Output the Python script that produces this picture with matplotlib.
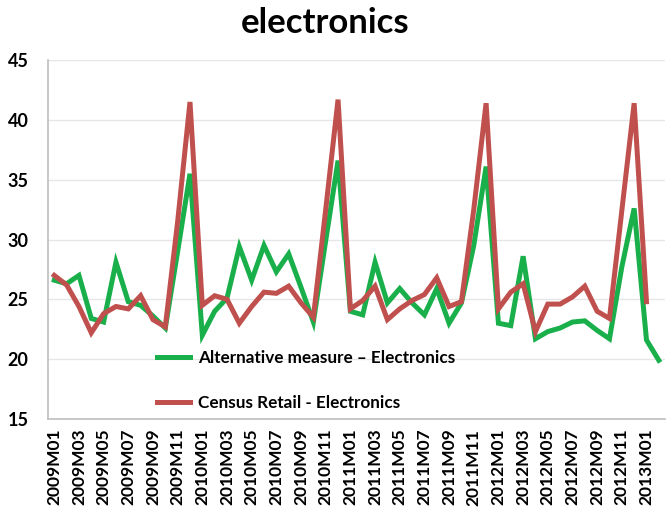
import matplotlib
matplotlib.use("Agg")
import matplotlib.pyplot as plt

# ---- data ----
months = [f"{y}M{m:02d}" for y in range(2009, 2014) for m in range(1, 13)][:50]

alternative = [26.6, 26.3, 27.0, 23.4, 23.1, 28.1, 24.8, 24.5, 23.6, 22.6,
               29.0, 35.5, 22.0, 24.0, 25.1, 29.4, 26.6, 29.5, 27.3, 28.8,
               26.0, 23.1, 29.9, 36.6, 24.0, 23.7, 28.1, 24.7, 25.9, 24.7,
               23.7, 25.9, 23.0, 24.7, 29.5, 36.1, 23.0, 22.8, 28.6, 21.7,
               22.3, 22.6, 23.1, 23.2, 22.4, 21.7, 27.7, 32.6, 21.6, 19.9]

census = [27.0, 26.2, 24.4, 22.2, 23.8, 24.4, 24.2, 25.3, 23.3, 22.7,
          31.5, 41.5, 24.5, 25.3, 25.0, 23.0, 24.4, 25.6, 25.5, 26.1,
          24.7, 23.5, 32.5, 41.7, 24.2, 24.9, 26.1, 23.3, 24.2, 24.9,
          25.4, 26.8, 24.4, 24.8, 32.5, 41.4, 24.2, 25.6, 26.3, 22.3,
          24.6, 24.6, 25.2, 26.1, 24.0, 23.4, 32.4, 41.4, 24.8]

series_names = ["Alternative measure \u2013 Electronics", "Census Retail - Electronics"]
title = "electronics"
yticks = [15, 20, 25, 30, 35, 40, 45]

green = "#19B04B"
red = "#C0504D"

plt.rcParams['font.family'] = ['Lato', 'DejaVu Sans']

fig = plt.figure(figsize=(6.68, 5.14), dpi=100)
ax = fig.add_axes([0.072, 0.185, 0.9235, 0.698])

ax.plot(range(len(alternative)), alternative, color=green, lw=3.6,
        solid_joinstyle='miter', label=series_names[0], zorder=3)
ax.plot(range(len(census)), census, color=red, lw=3.6,
        solid_joinstyle='miter', label=series_names[1], zorder=4)

ax.set_xlim(-0.5, len(months) - 0.5)
ax.set_ylim(15, 45)
ax.set_yticks(yticks)
ax.set_yticklabels([str(v) for v in yticks], fontsize=13, fontweight='bold')
ax.set_xticks(range(0, len(months), 2))
ax.set_xticklabels(months[::2], rotation=90, fontsize=12.5, fontweight='bold')
ax.tick_params(axis='both', length=0)
ax.tick_params(axis='y', pad=14)
ax.tick_params(axis='x', pad=7)

ax.grid(axis='y', color='#E6E6E6', lw=1)
ax.set_axisbelow(True)
for s in ['top', 'right']:
    ax.spines[s].set_visible(False)
for s in ['left', 'bottom']:
    ax.spines[s].set_color('#BFBFBF')
    ax.spines[s].set_linewidth(1.2)

ax.legend(loc='lower left', bbox_to_anchor=(0.152, -0.022), frameon=False,
          prop={'weight': 'bold', 'size': 12.3}, handlelength=1.9,
          handletextpad=0.5, labelspacing=1.75)

fig.text(0.487, 0.955, title, ha='center', va='center', fontsize=25,
         fontweight='bold')

fig.savefig("out.png", dpi=100)
